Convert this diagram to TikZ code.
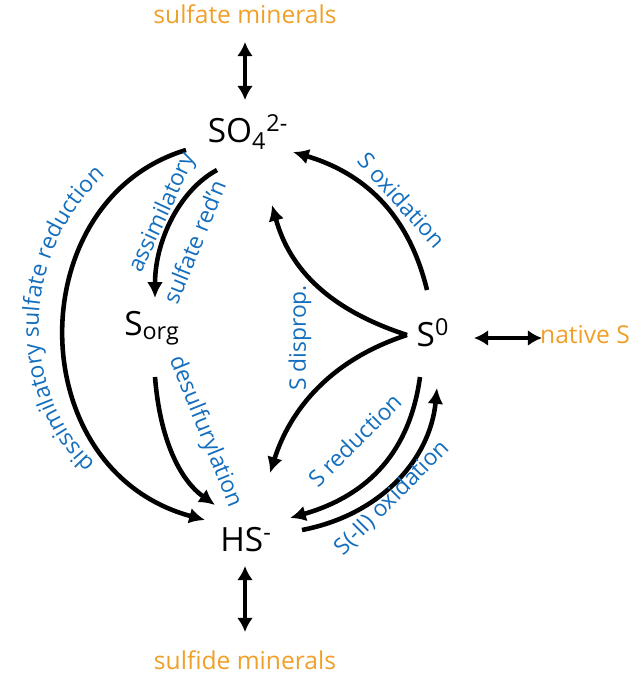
\documentclass[tikz,border=0pt]{standalone}
\usepackage{fontspec}
\setmainfont{Open Sans}
\usetikzlibrary{arrows.meta,decorations.text}
\definecolor{procblue}{RGB}{20,110,190}
\definecolor{minorange}{RGB}{240,160,40}
\begin{document}
\begin{tikzpicture}[x=0.02cm,y=-0.02cm,
    flow/.style={line width=2.6pt,-{Latex[length=9pt,width=9pt]}},
    both/.style={line width=2.6pt,{Latex[length=8pt,width=9pt]}-{Latex[length=8pt,width=9pt]}},
    species/.style={font=\fontsize{19}{22}\selectfont},
    mineral/.style={text=minorange,font=\fontsize{14}{16}\selectfont},
    proc/.style={text=procblue,font=\fontsize{13}{15}\selectfont}]
  \useasboundingbox (0,0) rectangle (640,673);

  \node[species] (so4) at (248,132) {SO\textsubscript{4}\textsuperscript{2-}};
  \node[species] (sorg) at (152,328) {S\textsubscript{org}};
  \node[species] (s0) at (433,333) {S\textsuperscript{0}};
  \node[species] (hs) at (246,540) {HS\textsuperscript{-}};
  \node[mineral] (sulfate) at (245,14) {sulfate minerals};
  \node[mineral] (sulfide) at (245,660) {sulfide minerals};
  \node[mineral] (native) at (585,335) {native S};

  % exchanges with minerals
  \draw[both] (245,42) -- (245,100);
  \draw[both] (245,566) -- (245,632);
  \draw[both] (474,338) -- (542,338);

  % sulfur cycle
  \draw[flow] (186,150) .. controls (20,200) and (20,470) .. (205,520);
  \draw[flow] (217,170) .. controls (180,190) and (155,240) .. (155,298);
  \draw[flow] (155,377) .. controls (160,440) and (180,480) .. (215,505);
  \draw[flow] (427,290) .. controls (410,220) and (370,175) .. (293,152);
  \draw[flow] (407,335) .. controls (330,310) and (290,270) .. (272,205);
  \draw[flow] (407,335) .. controls (330,360) and (290,410) .. (270,473);
  \draw[flow] (420,377) .. controls (410,450) and (370,495) .. (290,518);
  \draw[flow] (302,530) .. controls (380,515) and (430,460) .. (437,388);

  \path[decorate,decoration={text along path,text align=center,
      text={|\color{procblue}\fontsize{13}{15}\selectfont|dissimilatory sulfate reduction}}]
      (180,510) .. controls (-10,460) and (-10,190) .. (190,128);
  \node[proc,rotate=65] at (163,213) {assimilatory};
  \node[proc,rotate=68] at (194,242) {sulfate red'n};
  \node[proc,rotate=-68] at (205,432) {desulfurylation};
  \node[proc,rotate=90] at (300,338) {S disprop.};
  \node[proc,rotate=-48] at (402,200) {S oxidation};
  \node[proc,rotate=45] at (355,440) {S reduction};
  \node[proc,rotate=45] at (392,498) {S(-II) oxidation};
\end{tikzpicture}
\end{document}
